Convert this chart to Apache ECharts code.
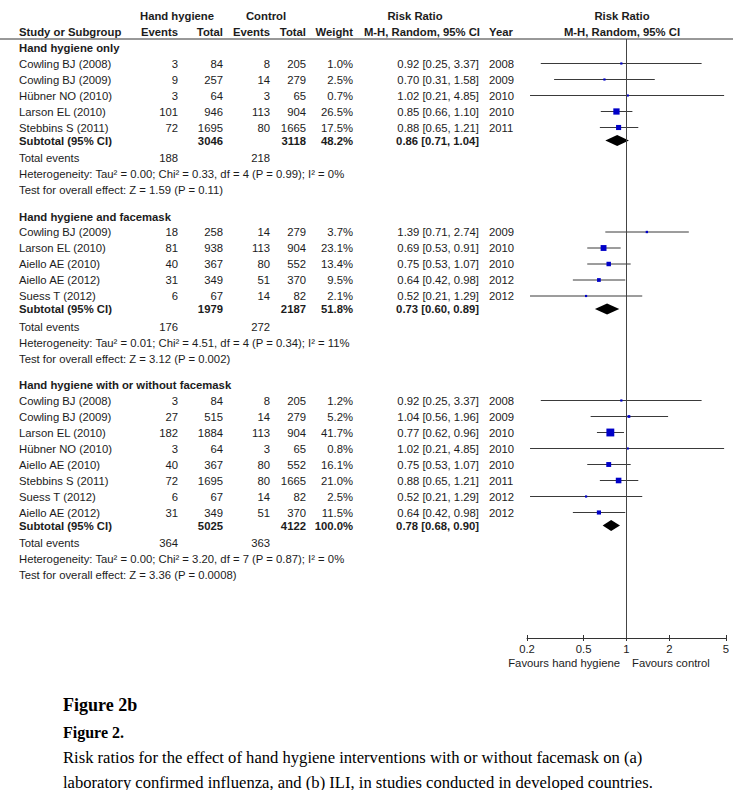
<!DOCTYPE html>
<html><head><meta charset="utf-8">
<script src="https://cdn.jsdelivr.net/npm/echarts@6.0.0/dist/echarts.min.js"></script>
<style>html,body{margin:0;padding:0;background:#fff}#c{width:743px;height:790px}</style>
</head><body><div id="c"></div>
<script>
// ---------------- DATA ----------------
const groupTitles = ['Hand hygiene only', 'Hand hygiene and facemask', 'Hand hygiene with or without facemask'];

const g1Names = ['Cowling BJ (2008)', 'Cowling BJ (2009)', 'Hübner NO (2010)', 'Larson EL (2010)', 'Stebbins S (2011)'];
const g1HhEvents = [3, 9, 3, 101, 72];
const g1HhTotal = [84, 257, 64, 946, 1695];
const g1CtrlEvents = [8, 14, 3, 113, 80];
const g1CtrlTotal = [205, 279, 65, 904, 1665];
const g1Weight = [1.0, 2.5, 0.7, 26.5, 17.5];
const g1RR = [0.92, 0.70, 1.02, 0.85, 0.88];
const g1Lo = [0.25, 0.31, 0.21, 0.66, 0.65];
const g1Hi = [3.37, 1.58, 4.85, 1.10, 1.21];
const g1Year = [2008, 2009, 2010, 2010, 2011];

const g2Names = ['Cowling BJ (2009)', 'Larson EL (2010)', 'Aiello AE (2010)', 'Aiello AE (2012)', 'Suess T (2012)'];
const g2HhEvents = [18, 81, 40, 31, 6];
const g2HhTotal = [258, 938, 367, 349, 67];
const g2CtrlEvents = [14, 113, 80, 51, 14];
const g2CtrlTotal = [279, 904, 552, 370, 82];
const g2Weight = [3.7, 23.1, 13.4, 9.5, 2.1];
const g2RR = [1.39, 0.69, 0.75, 0.64, 0.52];
const g2Lo = [0.71, 0.53, 0.53, 0.42, 0.21];
const g2Hi = [2.74, 0.91, 1.07, 0.98, 1.29];
const g2Year = [2009, 2010, 2010, 2012, 2012];

const g3Names = ['Cowling BJ (2008)', 'Cowling BJ (2009)', 'Larson EL (2010)', 'Hübner NO (2010)', 'Aiello AE (2010)', 'Stebbins S (2011)', 'Suess T (2012)', 'Aiello AE (2012)'];
const g3HhEvents = [3, 27, 182, 3, 40, 72, 6, 31];
const g3HhTotal = [84, 515, 1884, 64, 367, 1695, 67, 349];
const g3CtrlEvents = [8, 14, 113, 3, 80, 80, 14, 51];
const g3CtrlTotal = [205, 279, 904, 65, 552, 1665, 82, 370];
const g3Weight = [1.2, 5.2, 41.7, 0.8, 16.1, 21.0, 2.5, 11.5];
const g3RR = [0.92, 1.04, 0.77, 1.02, 0.75, 0.88, 0.52, 0.64];
const g3Lo = [0.25, 0.56, 0.62, 0.21, 0.53, 0.65, 0.21, 0.42];
const g3Hi = [3.37, 1.96, 0.96, 4.85, 1.07, 1.21, 1.29, 0.98];
const g3Year = [2008, 2009, 2010, 2010, 2010, 2011, 2012, 2012];

const subtotalHhTotal = [3046, 1979, 5025];
const subtotalCtrlTotal = [3118, 2187, 4122];
const subtotalWeight = [48.2, 51.8, 100.0];
const subtotalRR = [0.86, 0.73, 0.78];
const subtotalLo = [0.71, 0.60, 0.68];
const subtotalHi = [1.04, 0.89, 0.90];
const totalHhEvents = [188, 176, 364];
const totalCtrlEvents = [218, 272, 363];
const heterogeneityText = [
  'Heterogeneity: Tau\u00b2 = 0.00; Chi\u00b2 = 0.33, df = 4 (P = 0.99); I\u00b2 = 0%',
  'Heterogeneity: Tau\u00b2 = 0.01; Chi\u00b2 = 4.51, df = 4 (P = 0.34); I\u00b2 = 11%',
  'Heterogeneity: Tau\u00b2 = 0.00; Chi\u00b2 = 3.20, df = 7 (P = 0.87); I\u00b2 = 0%'
];
const overallEffectText = [
  'Test for overall effect: Z = 1.59 (P = 0.11)',
  'Test for overall effect: Z = 3.12 (P = 0.002)',
  'Test for overall effect: Z = 3.36 (P = 0.0008)'
];
const xTickValues = [0.2, 0.5, 1, 2, 5];
const xTickLabels = ['0.2', '0.5', '1', '2', '5'];
const favoursLeft = 'Favours hand hygiene';
const favoursRight = 'Favours control';
const captionTitle = 'Figure 2b';
const captionLabel = 'Figure 2.';
const captionLines = [
  'Risk ratios for the effect of hand hygiene interventions with or without facemask on (a)',
  'laboratory confirmed influenza, and (b) ILI, in studies conducted in developed countries.'
];

// ---------------- LAYOUT ----------------
const W = 743, H = 790;
const GRID_TOP = 39, GRID_BOTTOM = 152;
const PLOT_LEFT = 527, PLOT_RIGHT = 17, TABLE_W = 520;
const COL = { name: 19, hhEv: 178, hhTot: 223, ctEv: 270, ctTot: 306, w: 353, rr: 479, year: 489,
  hhHead: 177, ctHead: 266, rrHead: 415, plotHead: 622, favL: 620, favR: 632, lineEnd: 733 };
const STEP = { firstStudy: 15.5, study: 16, subtotal: 13, total: 17.5, het: 16, test: 16, groupGap: 26.5 };
const HEAD1_Y = -23, HEAD2_Y = -7, FIRST_GROUP_Y = 9, FAVOURS_Y = 624;
const FONT = '"Liberation Sans", Arial, sans-serif';
const SERIF = '"Liberation Serif", "Times New Roman", serif';
const FS = 11.3;
const TXT = '#1c1c1c';

const groups = [
  { n: g1Names, he: g1HhEvents, ht: g1HhTotal, ce: g1CtrlEvents, ct: g1CtrlTotal, w: g1Weight, rr: g1RR, lo: g1Lo, hi: g1Hi, yr: g1Year },
  { n: g2Names, he: g2HhEvents, ht: g2HhTotal, ce: g2CtrlEvents, ct: g2CtrlTotal, w: g2Weight, rr: g2RR, lo: g2Lo, hi: g2Hi, yr: g2Year },
  { n: g3Names, he: g3HhEvents, ht: g3HhTotal, ce: g3CtrlEvents, ct: g3CtrlTotal, w: g3Weight, rr: g3RR, lo: g3Lo, hi: g3Hi, yr: g3Year }
];

const f2 = v => v.toFixed(2);
const ci = (r, l, h) => f2(r) + ' [' + f2(l) + ', ' + f2(h) + ']';

const texts = [];   // {x, y, t, a, b}
const studyPts = []; // [rr, lo, hi, y, weight]
const diamonds = []; // [rr, lo, hi, y]
function T(x, y, t, a, b) { texts.push({ x, y, t: String(t), a: a || 'left', b: !!b }); }

// headers
T(COL.hhHead, HEAD1_Y, 'Hand hygiene', 'center', true);
T(COL.ctHead, HEAD1_Y, 'Control', 'center', true);
T(COL.rrHead, HEAD1_Y, 'Risk Ratio', 'center', true);
T(COL.plotHead, HEAD1_Y, 'Risk Ratio', 'center', true);
T(COL.name, HEAD2_Y, 'Study or Subgroup', 'left', true);
T(COL.hhEv, HEAD2_Y, 'Events', 'right', true);
T(COL.hhTot, HEAD2_Y, 'Total', 'right', true);
T(COL.ctEv, HEAD2_Y, 'Events', 'right', true);
T(COL.ctTot, HEAD2_Y, 'Total', 'right', true);
T(COL.w, HEAD2_Y, 'Weight', 'right', true);
T(COL.rr + 1, HEAD2_Y, 'M-H, Random, 95% CI', 'right', true);
T(COL.year, HEAD2_Y, 'Year', 'left', true);
T(COL.plotHead, HEAD2_Y, 'M-H, Random, 95% CI', 'center', true);

let y = FIRST_GROUP_Y;
groups.forEach((g, gi) => {
  T(COL.name, y, groupTitles[gi], 'left', true);
  y += STEP.firstStudy;
  g.n.forEach((nm, i) => {
    T(COL.name, y, nm);
    T(COL.hhEv, y, g.he[i], 'right');
    T(COL.hhTot, y, g.ht[i], 'right');
    T(COL.ctEv, y, g.ce[i], 'right');
    T(COL.ctTot, y, g.ct[i], 'right');
    T(COL.w, y, g.w[i].toFixed(1) + '%', 'right');
    T(COL.rr, y, ci(g.rr[i], g.lo[i], g.hi[i]), 'right');
    T(COL.year, y, g.yr[i], 'left');
    studyPts.push([g.rr[i], g.lo[i], g.hi[i], y, g.w[i]]);
    if (i < g.n.length - 1) y += STEP.study;
  });
  y += STEP.subtotal;
  T(COL.name, y, 'Subtotal (95% CI)', 'left', true);
  T(COL.hhTot, y, subtotalHhTotal[gi], 'right', true);
  T(COL.ctTot, y, subtotalCtrlTotal[gi], 'right', true);
  T(COL.w, y, subtotalWeight[gi].toFixed(1) + '%', 'right', true);
  T(COL.rr, y, ci(subtotalRR[gi], subtotalLo[gi], subtotalHi[gi]), 'right', true);
  diamonds.push([subtotalRR[gi], subtotalLo[gi], subtotalHi[gi], y]);
  y += STEP.total;
  T(COL.name, y, 'Total events');
  T(COL.hhEv, y, totalHhEvents[gi], 'right');
  T(COL.ctEv, y, totalCtrlEvents[gi], 'right');
  y += STEP.het;
  T(COL.name, y, heterogeneityText[gi]);
  y += STEP.test;
  T(COL.name, y, overallEffectText[gi]);
  y += STEP.groupGap;
});
T(COL.favL, FAVOURS_Y, favoursLeft, 'right');
T(COL.favR, FAVOURS_Y, favoursRight, 'left');

const chart = echarts.init(document.getElementById('c'), null, { renderer: 'svg', width: W, height: H });
const plotH = H - GRID_TOP - GRID_BOTTOM;

const option = {
  animation: false,
  backgroundColor: '#fff',
  grid: [
    { left: 0, top: GRID_TOP, width: TABLE_W, bottom: GRID_BOTTOM, containLabel: false },
    { left: PLOT_LEFT, right: PLOT_RIGHT, top: GRID_TOP, bottom: GRID_BOTTOM, containLabel: false }
  ],
  xAxis: [
    { gridIndex: 0, type: 'value', min: 0, max: TABLE_W, show: false },
    { gridIndex: 1, type: 'log', logBase: 10, min: 0.2, max: 5, position: 'bottom',
      axisLine: { show: true, onZero: false, lineStyle: { color: '#333', width: 1 } },
      axisTick: { show: true, customValues: xTickValues, length: 3, lineStyle: { color: '#333' } },
      axisLabel: { show: true, customValues: xTickValues, margin: 5,
        formatter: v => { const k = xTickValues.findIndex(t => Math.abs(t - v) < 1e-6); return k >= 0 ? xTickLabels[k] : ''; },
        fontFamily: FONT, fontSize: FS, color: TXT },
      splitLine: { show: false } },
    { gridIndex: 1, type: 'log', logBase: 10, min: 0.2, max: 5, position: 'bottom',
      axisLine: { show: false, onZero: false },
      axisTick: { show: true, inside: true, customValues: xTickValues, length: 3, lineStyle: { color: '#333' } },
      axisLabel: { show: false }, splitLine: { show: false } }
  ],
  yAxis: [
    { gridIndex: 0, type: 'value', inverse: true, min: 0, max: plotH, show: false },
    { gridIndex: 1, type: 'value', inverse: true, min: 0, max: plotH, show: false }
  ],
  series: [
    { type: 'custom', name: 'table', xAxisIndex: 0, yAxisIndex: 0, silent: true, clip: false,
      data: texts.map(t => [t.x, t.y]),
      renderItem: (params, api) => {
        const it = texts[params.dataIndex];
        const p = api.coord([api.value(0), api.value(1)]);
        return { type: 'text', x: p[0], y: p[1], silent: true,
          style: { text: it.t, align: it.a, verticalAlign: 'middle', fontFamily: FONT, fontSize: FS,
            fontWeight: it.b ? 'bold' : 'normal', fill: TXT } };
      } },
    { type: 'custom', name: 'rule', xAxisIndex: 0, yAxisIndex: 0, silent: true, clip: false,
      data: [[0, 0]],
      renderItem: (params, api) => {
        const a = api.coord([0, 0]); const b = api.coord([COL.lineEnd, 0]);
        return { type: 'line', shape: { x1: a[0], y1: a[1], x2: b[0], y2: b[1] }, style: { stroke: '#333', lineWidth: 1 } };
      } },
    { type: 'custom', name: 'studies', xAxisIndex: 1, yAxisIndex: 1, silent: true, clip: false,
      encode: { x: [0, 1, 2], y: 3 },
      data: studyPts,
      renderItem: (params, api) => {
        const yy = api.value(3);
        const c = api.coord([api.value(0), yy]);
        const l = api.coord([api.value(1), yy]);
        const h = api.coord([api.value(2), yy]);
        const s = Math.max(2.2, 1.22 * Math.sqrt(api.value(4)));
        return { type: 'group', children: [
          { type: 'line', shape: { x1: l[0], y1: l[1], x2: h[0], y2: h[1] }, style: { stroke: '#3a3a3a', lineWidth: 1 } },
          { type: 'rect', shape: { x: c[0] - s / 2, y: c[1] - s / 2, width: s, height: s }, style: { fill: '#0000c8' } }
        ] };
      },
      markLine: { silent: true, symbol: 'none', label: { show: false },
        lineStyle: { color: '#444', width: 1, type: 'solid' }, data: [{ xAxis: 1 }] } },
    { type: 'custom', name: 'subtotals', xAxisIndex: 1, yAxisIndex: 1, silent: true, clip: false,
      encode: { x: [0, 1, 2], y: 3 },
      data: diamonds,
      renderItem: (params, api) => {
        const yy = api.value(3);
        const c = api.coord([api.value(0), yy]);
        const l = api.coord([api.value(1), yy]);
        const h = api.coord([api.value(2), yy]);
        const hh = 5.5;
        return { type: 'polygon', shape: { points: [[l[0], l[1]], [c[0], c[1] - hh], [h[0], h[1]], [c[0], c[1] + hh]] },
          style: { fill: '#000' } };
      } }
  ],
  graphic: [
    { type: 'text', x: 63, y: 705, silent: true,
      style: { text: captionTitle, fontFamily: SERIF, fontSize: 18, fontWeight: 'bold', fill: '#000', verticalAlign: 'middle' } },
    { type: 'text', x: 63, y: 732, silent: true,
      style: { text: captionLabel, fontFamily: SERIF, fontSize: 16, fontWeight: 'bold', fill: '#000', verticalAlign: 'middle' } },
    { type: 'text', x: 63, y: 757, silent: true,
      style: { text: captionLines[0], fontFamily: SERIF, fontSize: 16.6, fill: '#000', verticalAlign: 'middle' } },
    { type: 'text', x: 63, y: 782, silent: true,
      style: { text: captionLines[1], fontFamily: SERIF, fontSize: 16.6, fill: '#000', verticalAlign: 'middle' } }
  ]
};
chart.setOption(option);
</script></body></html>
